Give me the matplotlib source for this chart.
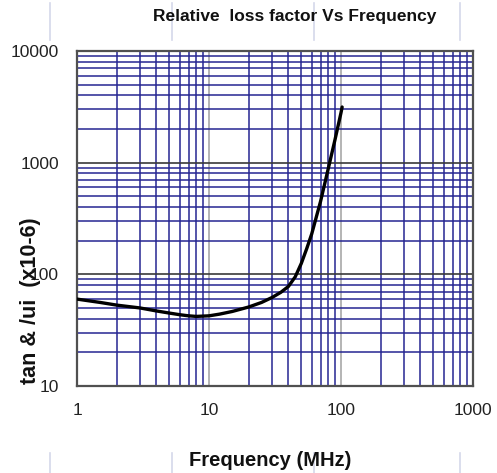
import matplotlib
matplotlib.use('Agg')
import matplotlib.pyplot as plt
from matplotlib.ticker import LogLocator, NullFormatter, FixedLocator
from matplotlib.lines import Line2D

# Datos
freq_mhz = [1, 1.5, 2, 3, 4, 5, 6, 7, 8, 10, 12, 15, 20, 25, 30, 35, 40, 45,
            50, 55, 60, 70, 80, 90, 100, 102]
loss_factor = [60, 56, 53, 50, 47, 45, 43.5, 42.5, 42, 42.5, 44, 46.5, 51, 56, 62, 69, 78, 95,
               125, 170, 230, 450, 880, 1600, 2800, 3150]
x_ticks = [1, 10, 100, 1000]
y_ticks = [10, 100, 1000, 10000]

fig = plt.figure(figsize=(4.97, 4.73), dpi=100)
ax = fig.add_axes([77 / 497, 1 - 386 / 473, 396 / 497, 335 / 473])

ax.set_xscale('log')
ax.set_yscale('log')
ax.set_xlim(1, 1000)
ax.set_ylim(10, 10000)

# Rejilla: menor azul marino, mayor gris (x) y gris oscuro (y)
ax.xaxis.set_minor_locator(LogLocator(base=10, subs=range(2, 10)))
ax.yaxis.set_minor_locator(LogLocator(base=10, subs=range(2, 10)))
ax.xaxis.set_minor_formatter(NullFormatter())
ax.yaxis.set_minor_formatter(NullFormatter())
ax.xaxis.set_major_locator(FixedLocator(x_ticks))
ax.yaxis.set_major_locator(FixedLocator(y_ticks))
ax.set_xticklabels([str(v) for v in x_ticks])
ax.set_yticklabels([str(v) for v in y_ticks])

ax.grid(which='minor', axis='both', color='#262692', linewidth=1.1)
ax.grid(which='major', axis='x', color='#a8a8a8', linewidth=1.2)
ax.grid(which='major', axis='y', color='#3a3a3a', linewidth=1.2)
ax.set_axisbelow(True)

ax.plot(freq_mhz, loss_factor, color='black', linewidth=2.4,
        solid_joinstyle='round', solid_capstyle='round', zorder=3)

for s in ax.spines.values():
    s.set_color('#505050')
    s.set_linewidth(1.6)

ax.tick_params(which='both', length=0, labelsize=12.5, labelcolor='#222222')
ax.tick_params(axis='x', pad=12)
ax.tick_params(axis='y', pad=13)
for lab in ax.get_xticklabels() + ax.get_yticklabels():
    lab.set_family('Liberation Sans')

fig.text(0.593, 0.965, 'Relative  loss factor Vs Frequency', ha='center', va='center',
         fontsize=12.5, fontweight='bold', family='Liberation Sans', color='#111111')
fig.text(0.543, 0.027, 'Frequency (MHz)', ha='center', va='center',
         fontsize=14.5, fontweight='bold', family='Liberation Sans', color='#111111')
fig.text(0.062, 0.365, 'tan & /ui  (x10-6)', ha='center', va='center', rotation=90,
         fontsize=15.5, fontweight='bold', family='Liberation Sans', color='#111111')

# Lineas tenues de fondo (artefactos de la hoja original)
for xp in [50, 172, 314, 460]:
    fig.add_artist(Line2D([xp / 497, xp / 497], [1 - 40 / 473, 1 - 3 / 473],
                          color='#d4d8ea', linewidth=1.2))
    fig.add_artist(Line2D([xp / 497, xp / 497], [0, 1 - 453 / 473],
                          color='#d4d8ea', linewidth=1.2, zorder=0))

plt.savefig('out.png', dpi=100)
plt.close()
